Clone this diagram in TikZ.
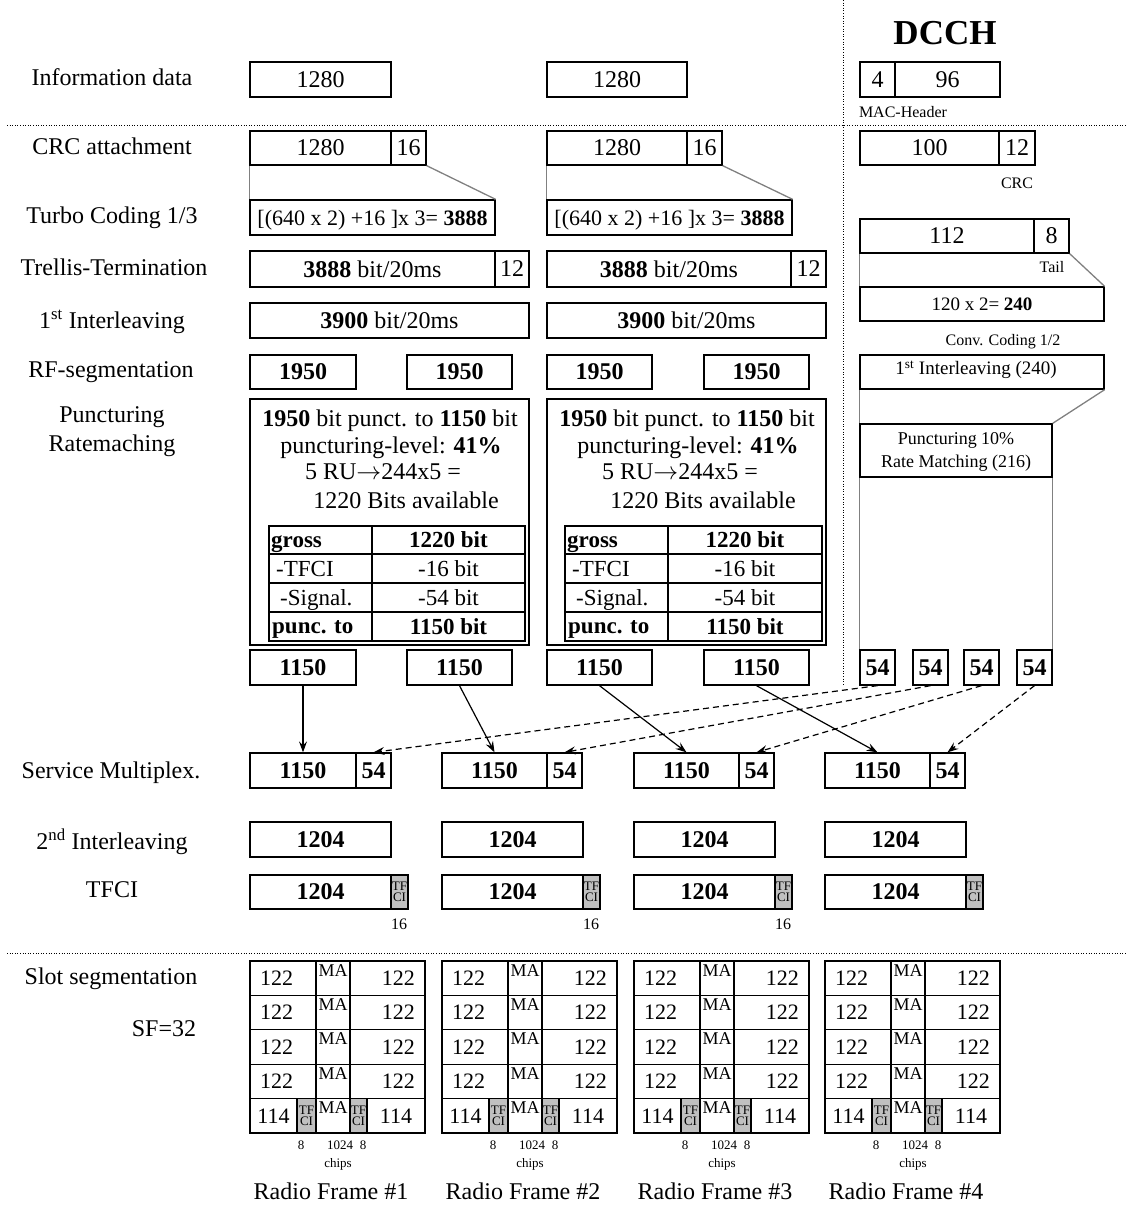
\documentclass[tikz,border=0pt]{standalone}
\usepackage{fontspec}
\setmainfont{Liberation Serif}
\usetikzlibrary{arrows.meta}
\definecolor{tfgray}{RGB}{192,192,192}
\definecolor{lgray}{RGB}{128,128,128}
\newcommand\fs[1]{\fontsize{#1}{#1}\selectfont}
\newcommand\bx[7][]{\node[boxst,minimum width={((#5)-(#3))*1pt},minimum height={((#6)-(#4))*1pt},#1] (#2) at ({((#3)+(#5))/2},{((#4)+(#6))/2}) {#7};}
\begin{document}
\begin{tikzpicture}[x=1pt,y=-1pt,
  boxst/.style={draw,line width=1.3pt,inner sep=0pt,text depth=0pt,font={\fs{24}}},
  bb/.style={font={\bfseries\fs{24}}},
  txt/.style={inner sep=0pt,text depth=0pt,font={\fs{24}}},
  small/.style={inner sep=0pt,text depth=0pt,font={\fs{16}}},
  tiny/.style={inner sep=0pt,text depth=0pt,font={\fs{13}}},
  gcell/.style={fill=tfgray,font={\fontsize{13}{11}\selectfont},align=center},
  tcell/.style={line width=1.8pt},
  gline/.style={draw=lgray,line width=1.3pt},
  dotln/.style={line width=0.9pt,dash pattern=on 1pt off 1.6pt},
  sarr/.style={line width=1.2pt,-{Stealth[length=11pt,width=8pt,inset=4pt]}},
  darr/.style={sarr,dash pattern=on 6pt off 4pt}]
\path[use as bounding box] (0,0) rectangle (1127,1211);

% ---------- dotted separators
\coordinate (h1a) at (7,125); \coordinate (h1b) at (1127,125);
\coordinate (h2a) at (7,953); \coordinate (h2b) at (1127,953);
\coordinate (v1a) at (843,0); \coordinate (v1b) at (843,684);
\draw[dotln] (h1a) -- (h1b);
\draw[dotln] (h2a) -- (h2b);
\draw[dotln] (v1a) -- (v1b);

% ---------- left labels
\node[txt] (lInfo) at (112,77) {Information data};
\node[txt] (lCRC) at (112,146) {CRC attachment};
\node[txt] (lTurbo) at (112,215) {Turbo Coding 1/3};
\node[txt] (lTrellis) at (114,267) {Trellis-Termination};
\node[txt] (lInt1) at (112,319) {1\textsuperscript{st} Interleaving};
\node[txt] (lRF) at (111,370) {RF-segmentation};
\node[txt,align=center,font={\fontsize{24}{29}\selectfont}] (lPunc) at (112,429) {Puncturing\\Ratemaching};
\node[txt] (lMux) at (111,770) {Service Multiplex.};
\node[txt] (lInt2) at (112,839) {2\textsuperscript{nd} Interleaving};
\node[txt] (lTFCI) at (112,890) {TFCI};
\node[txt] (lSlot) at (111,976) {Slot segmentation};
\node[txt] (lSF) at (164,1029) {SF=32};

% ---------- DCCH header
\node[inner sep=0pt,text depth=0pt,font={\bfseries\fs{35}}] (dcch) at (945,33) {DCCH};

% ---------- information data
\bx{infA}{250}{62}{391}{97}{1280}
\bx{infB}{547}{62}{687}{97}{1280}
\bx{dInfH}{860}{62}{895}{97}{4}
\bx{dInf}{895}{62}{1000}{97}{96}
\node[small] (mac) at (903,112) {MAC-Header};

% ---------- CRC
\bx{crcA}{250}{131}{391}{165}{1280}
\bx{crcA2}{391}{131}{426}{165}{16}
\bx{crcB}{547}{131}{687}{165}{1280}
\bx{crcB2}{687}{131}{722}{165}{16}
\bx{dCrc}{860}{131}{999}{165}{100}
\bx{dCrc2}{999}{131}{1035}{165}{12}
\node[small] (crcl) at (1017,183) {CRC};

% ---------- Turbo coding
\bx[font={\fs{22}}]{turA}{250}{200}{495}{235}{[(640 x 2) +16 ]x 3=~\textbf{3888}}
\bx[font={\fs{22}}]{turB}{547}{200}{792}{235}{[(640 x 2) +16 ]x 3=~\textbf{3888}}
\draw[gline] (crcA.south west) -- (turA.north west);
\draw[gline] (crcA2.south east) -- (turA.north east);
\draw[gline] (crcB.south west) -- (turB.north west);
\draw[gline] (crcB2.south east) -- (turB.north east);

% ---------- Trellis
\bx{trA}{250}{251}{495}{287}{\textbf{3888} bit/20ms}
\bx{trA2}{495}{251}{529}{287}{12}
\bx{trB}{547}{251}{791}{287}{\textbf{3888} bit/20ms}
\bx{trB2}{791}{251}{826}{287}{12}

% ---------- 1st interleaving
\bx{ilA}{250}{303}{529}{338}{\textbf{3900} bit/20ms}
\bx{ilB}{547}{303}{826}{338}{\textbf{3900} bit/20ms}

% ---------- RF segmentation
\bx[bb]{rf1}{250}{355}{356}{389}{1950}
\bx[bb]{rf2}{407}{355}{512}{389}{1950}
\bx[bb]{rf3}{547}{355}{652}{389}{1950}
\bx[bb]{rf4}{704}{355}{809}{389}{1950}

% ---------- Puncturing boxes
\bx{puA}{250}{399}{529}{645}{}
\bx{puB}{547}{399}{826}{645}{}
\node[txt] (puA1) at (390,418) {\textbf{1950} bit punct. to \textbf{1150} bit};
\node[txt] (puA2) at (391,445) {puncturing-level: \textbf{41\%}};
\node[txt] (puA3) at (383,472) {5 RU$\rightarrow$244x5 =};
\node[txt] (puA4) at (406,500) {1220 Bits available};
\node[txt] (puB1) at (687,418) {\textbf{1950} bit punct. to \textbf{1150} bit};
\node[txt] (puB2) at (688,445) {puncturing-level: \textbf{41\%}};
\node[txt] (puB3) at (680,472) {5 RU$\rightarrow$244x5 =};
\node[txt] (puB4) at (703,500) {1220 Bits available};

% tables
\foreach \k/\Lx/\Dx/\Rx in {A/269/372/525,B/565/668/822} {
  \bx[tcell]{t\k a0}{\Lx}{526}{\Dx}{554}{}
  \bx[tcell]{t\k a1}{\Lx}{554}{\Dx}{583}{}
  \bx[tcell]{t\k a2}{\Lx}{583}{\Dx}{612}{}
  \bx[tcell]{t\k a3}{\Lx}{612}{\Dx}{641}{}
  \bx[tcell,font={\bfseries\fs{23}}]{t\k b0}{\Dx}{526}{\Rx}{554}{1220 bit}
  \bx[tcell,font={\fs{23}}]{t\k b1}{\Dx}{554}{\Rx}{583}{-16 bit}
  \bx[tcell,font={\fs{23}}]{t\k b2}{\Dx}{583}{\Rx}{612}{-54 bit}
  \bx[tcell,font={\bfseries\fs{23}}]{t\k b3}{\Dx}{612}{\Rx}{641}{1150 bit}
  \node[txt,font={\bfseries\fs{23}},anchor=west] (t\k x0) at (\Lx+2,542) {gross};
  \node[txt,font={\fs{23}},anchor=west] (t\k x1) at (\Lx+7,569) {-TFCI};
  \node[txt,font={\fs{23}},anchor=west] (t\k x2) at (\Lx+11,598) {-Signal.};
  \node[txt,font={\bfseries\fs{23}},anchor=west] (t\k x3) at (\Lx+3,627) {punc. to};
}

% ---------- 1150 row
\bx[bb]{o1}{250}{650}{356}{685}{1150}
\bx[bb]{o2}{407}{650}{512}{685}{1150}
\bx[bb]{o3}{547}{650}{652}{685}{1150}
\bx[bb]{o4}{704}{650}{809}{685}{1150}

% ---------- DCCH chain
\bx{d112}{860}{219}{1034}{253}{112}
\bx{d8}{1034}{219}{1069}{253}{8}
\node[small] (tail) at (1052,267) {Tail};
\bx[font={\fs{19}}]{d240}{860}{287}{1104}{321}{120 x 2=~\textbf{240}}
\draw[gline] (d112.south west) -- (d240.north west);
\draw[gline] (d8.south east) -- (d240.north east);
\node[small] (conv) at (1003,340) {Conv. Coding 1/2};
\bx{dIl}{860}{355}{1104}{389}{}
\node[txt,font={\fs{19}}] (dIlt) at (976,368) {1\textsuperscript{st} Interleaving (240)};
\bx[font={\fs{18}},align=center]{dPu}{860}{424}{1052}{477}{Puncturing 10\%\\[5pt]Rate Matching (216)}
\draw[gline] (dIl.south west) -- (dPu.north west);
\draw[gline] (dIl.south east) -- (dPu.north east);
\bx[bb]{s1}{860}{650}{895}{685}{54}
\bx[bb]{s2}{913}{650}{948}{685}{54}
\bx[bb]{s3}{964}{650}{999}{685}{54}
\bx[bb]{s4}{1017}{650}{1052}{685}{54}
\draw[gline] (dPu.south west) -- (s1.north west);
\draw[gline] (dPu.south east) -- (s4.north east);

% ---------- Service multiplex
\bx[bb]{m1}{250}{753}{356}{788}{1150}
\bx[bb]{m1b}{356}{753}{391}{788}{54}
\bx[bb]{m2}{442}{753}{547}{788}{1150}
\bx[bb]{m2b}{547}{753}{582}{788}{54}
\bx[bb]{m3}{634}{753}{739}{788}{1150}
\bx[bb]{m3b}{739}{753}{774}{788}{54}
\bx[bb]{m4}{825}{753}{930}{788}{1150}
\bx[bb]{m4b}{930}{753}{965}{788}{54}

\draw[sarr] (o1.south) -- (m1.north);
\draw[sarr] (o2.south) -- (m2.north);
\draw[sarr] (o3.south) -- (m3.north);
\draw[sarr] (o4.south) -- (m4.north);
\draw[darr] (s1.south) -- (m1b.north);
\draw[darr] (s2.south) -- (m2b.north);
\draw[darr] (s3.south) -- (m3b.north);
\draw[darr] (s4.south) -- (m4b.north);

% ---------- 2nd interleaving and TFCI
\foreach \c/\L in {1/250,2/442,3/634,4/825} {
  \bx[bb]{iv\c}{\L}{822}{\L+141}{857}{1204}
  \bx[bb]{tf\c}{\L}{875}{\L+141}{909}{1204}
  \bx[gcell]{tg\c}{\L+141}{875}{\L+158}{909}{TF\\CI}
}
\node[small] (n16a) at (399,924) {16};
\node[small] (n16b) at (591,924) {16};
\node[small] (n16c) at (783,924) {16};

% ---------- slot segmentation grids
\foreach \c/\L in {1/250,2/442,3/634,4/825} {
  \foreach \r in {0,1,2,3} {
    \pgfmathsetmacro\T{961+\r*34.4}
    \pgfmathsetmacro\B{\T+34.4}
    \bx{g\c a\r}{\L}{\T}{\L+66}{\B}{}
    \bx{g\c b\r}{\L+66}{\T}{\L+100}{\B}{}
    \bx{g\c c\r}{\L+100}{\T}{\L+175}{\B}{}
    \node[txt,font={\fs{22}},anchor=west] (g\c x\r) at (\L+10,\T+17.2) {122};
    \node[txt,font={\fs{22}},anchor=east] (g\c y\r) at (\L+165,\T+17.2) {122};
    \node[txt,font={\fs{18}},anchor=north] (g\c m\r) at (\L+83,\T+3) {MA};
  }
  \pgfmathsetmacro\T{961+4*34.4}
  \pgfmathsetmacro\B{\T+34.4}
  \bx[font={\fs{22}}]{g\c a4}{\L}{\T}{\L+47}{\B}{114}
  \bx[gcell]{g\c p4}{\L+47}{\T}{\L+66}{\B}{TF\\CI}
  \bx{g\c b4}{\L+66}{\T}{\L+100}{\B}{}
  \node[txt,font={\fs{18}},anchor=north] (g\c m4) at (\L+83,\T+3) {MA};
  \bx[gcell]{g\c q4}{\L+100}{\T}{\L+117}{\B}{TF\\CI}
  \bx[font={\fs{22}}]{g\c c4}{\L+117}{\T}{\L+175}{\B}{114}
  \node[tiny] (g\c e1) at (\L+51,1145) {8};
  \node[tiny] (g\c e2) at (\L+90,1145) {1024};
  \node[tiny] (g\c e3) at (\L+113,1145) {8};
  \node[tiny] (g\c ch) at (\L+88,1163) {chips};
  \node[txt] (rf\c l) at (\L+81,1191) {Radio Frame \#\c};
}
\end{tikzpicture}
\end{document}
